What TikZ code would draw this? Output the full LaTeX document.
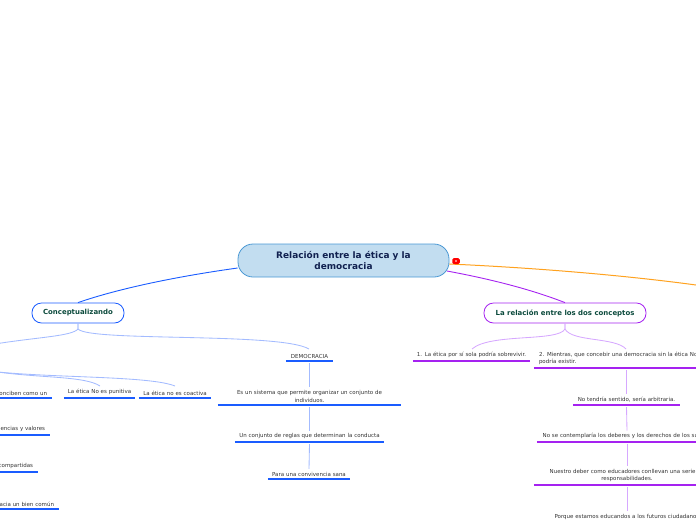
\documentclass[tikz,border=0pt]{standalone}
\usepackage{fontspec}
\setmainfont{DejaVu Sans}
\definecolor{rootfill}{HTML}{C2DDF0}
\definecolor{rootline}{HTML}{4A98D4}
\definecolor{rootink}{HTML}{10204F}
\definecolor{branchink}{HTML}{0B4A3C}
\definecolor{blueline}{HTML}{1A5CFF}
\definecolor{bluelight}{HTML}{A3BBFF}
\definecolor{purpline}{HTML}{A522F0}
\definecolor{purplight}{HTML}{D6A8FF}
\definecolor{orangeline}{HTML}{FFA21F}
\definecolor{topicink}{HTML}{333333}
\tikzset{
  x=1pt,y=-1pt,
  rootbox/.style={draw=rootline,fill=rootfill,line width=.8pt,rounded corners=15pt,minimum width=211pt,minimum height=33pt,inner sep=0pt,align=center,text=rootink,font=\fontsize{8.95}{11.5}\selectfont\bfseries},
  branchbox/.style={draw=#1,fill=white,line width=.8pt,rounded corners=9.5pt,minimum height=20pt,inner sep=0pt,text=branchink,font=\fontsize{6.95}{8}\selectfont\bfseries},
  topic/.style n args={2}{anchor=south,inner xsep=0pt,inner ysep=2.7pt,text width=#1pt,text=topicink,font=\fontsize{5.5}{7.8}\selectfont,
    append after command={(\tikzlastnode.south west) edge[draw=#2,line width=1.25pt] (\tikzlastnode.south east)}},
  linkb/.style={draw=bluelight,line width=.85pt},
  linkp/.style={draw=purplight,line width=.85pt},
}
\begin{document}
\begin{tikzpicture}
\useasboundingbox (0,0) rectangle (696,520);
\clip (0,0) rectangle (696,520);
\node[rootbox] (root) at (343.5,260.5) {\raisebox{-.6pt}{Relación entre la ética y la}\\\raisebox{-.6pt}{democracia}};
\node[branchbox=blueline,minimum width=92pt] (conc) at (78,313) {\raisebox{-.6pt}{Conceptualizando}};
\node[branchbox=purpline,minimum width=162pt] (rel) at (565,313) {\raisebox{-.6pt}{La relación entre los dos conceptos}};
\coordinate (orangeend) at (696,285);
\draw[blueline,line width=.9pt] (root.west |- 0,268) .. controls (180,276) and (120,288) .. (conc.north);
\draw[purpline,line width=.9pt] (447,271) .. controls (490,279) and (530,289) .. (rel.north);
\draw[orangeline,line width=1pt] (root.east |- 0,264) .. controls (540,268) and (630,276) .. (orangeend);
\node[fill=red,rounded corners=1.5pt,minimum width=7.5pt,minimum height=6pt,inner sep=0pt] (flag) at (456,261) {};
\node[fill=white,circle,minimum size=1.6pt,inner sep=0pt] (flagdot) at (flag) {};
% Conceptualizando topics
\node[topic={104}{blueline},align=right] (t1) at (0,398) {conciben como un\hspace*{5pt}};
\node[topic={71}{blueline},align=center] (t2) at (99.5,398) {La ética No es punitiva};
\node[topic={72}{blueline},align=center] (t3) at (175,398) {La ética no es coactiva};
\node[topic={47}{blueline},align=center] (dem) at (309.5,361) {DEMOCRACIA};
\node[topic={183}{blueline},align=center] (d1) at (309.5,405) {Es un sistema que permite organizar un conjunto de\\individuos.};
\node[topic={149}{blueline},align=center] (d2) at (309.5,442) {Un conjunto de reglas que determinan la conducta};
\node[topic={82}{blueline},align=center] (d3) at (309,479) {Para una convivencia sana};
\node[topic={100}{blueline},align=right] (t4) at (0,435) {encias y valores\hspace*{5pt}};
\node[topic={76}{blueline},align=right] (t5) at (0,472) {compartidas\hspace*{5pt}};
\node[topic={118}{blueline},align=right] (t6) at (0,509) {acia un bien común\hspace*{5pt}};
\coordinate (leftup) at (-2,343.5);
\coordinate (leftdown) at (-2,372);
\draw[linkb] (conc.south) -- (78,329) .. controls (72,336) and (40,337) .. (leftup);
\draw[linkb] (conc.south) -- (78,329) .. controls (90,342) and (280,332) .. (309,349);
\draw[linkb] (leftdown) .. controls (40,378) and (85,376) .. (100,386);
\draw[linkb] (leftdown) .. controls (60,378) and (150,376) .. (175,386);
\draw[linkb] (dem.south) ++(0,2) -- (d1.north);
\draw[linkb] (d1.south) ++(0,2) -- (d2.north);
\draw[linkb] (d2.south) ++(0,2) -- (d3.north);
% Relation topics
\node[topic={117}{purpline},align=center] (r1) at (471.5,361) {1. La ética por sí sola podría sobrevivir.};
\node[topic={170}{purpline},align=left] (r2) at (619,368) {\hspace*{5pt}2. Mientras, que concebir una democracia sin la ética No\\\hspace*{5pt}podría existir.};
\node[topic={107}{purpline},align=center] (r3) at (626.5,405) {No tendría sentido, sería arbitraria.};
\node[topic={180}{purpline},align=center] (r4) at (627,442) {No se contemplaría los deberes y los derechos de los sujetos};
\node[topic={186}{purpline},align=center] (r5) at (627,485) {Nuestro deber como educadores conllevan una serie de\\responsabilidades.};
\node[anchor=south,inner sep=0pt,text=topicink,font=\fontsize{5.5}{7.8}\selectfont] (r6) at (627,519.5) {Porque estamos educandos a los futuros ciudadanos};
\draw[linkp] (rel.south) -- (565,329) .. controls (558,342) and (490,333) .. (472,349);
\draw[linkp] (rel.south) -- (565,329) .. controls (572,342) and (615,337) .. (626,349);
\draw[linkp] (r2.south -| r3.south) ++(0,2) -- (r3.north);
\draw[linkp] (r3.south) ++(0,2) -- (r4.north);
\draw[linkp] (r4.south) ++(0,2) -- (r5.north);
\draw[linkp] (r5.south) ++(0,2) -- ([yshift=3pt]r6.north);
\end{tikzpicture}
\end{document}
